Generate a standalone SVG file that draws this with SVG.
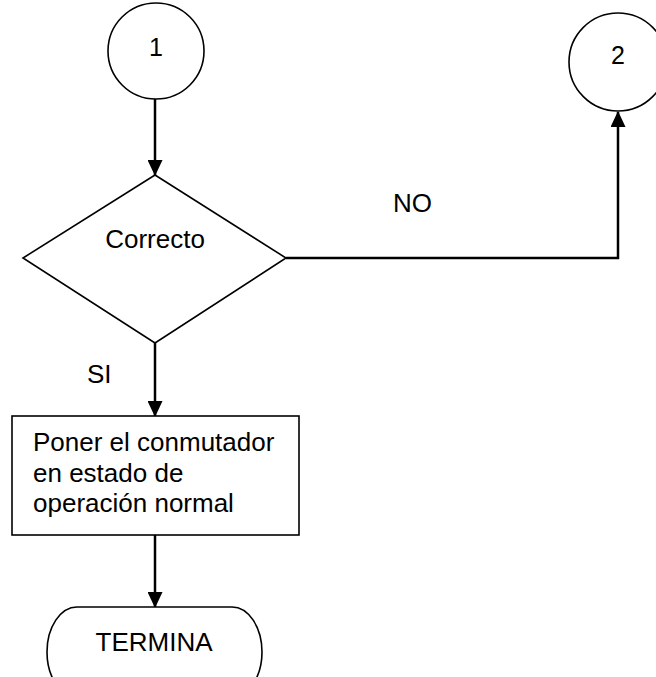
<svg xmlns="http://www.w3.org/2000/svg" width="656" height="677" viewBox="0 0 656 677">
<style>
.shape{fill:#fff;stroke:#000;stroke-width:1.6}
.conn{fill:none;stroke:#000;stroke-width:2.5}
text{font-family:"Liberation Sans",Arial,sans-serif;font-size:26px;fill:#000}
.num{font-size:25px}
</style>
<defs>
<marker id="arr" viewBox="0 0 16 15" refX="15" refY="7.5" markerWidth="16" markerHeight="15" markerUnits="userSpaceOnUse" orient="auto">
<path d="M0,0 L16,7.5 L0,15 Z" fill="#000"/>
</marker>
</defs>
<rect width="656" height="677" fill="#fff"/>
<g id="connectors">
<line class="conn" x1="155" y1="99" x2="155" y2="175" marker-end="url(#arr)"/>
<polyline class="conn" points="286,258 618,258 618,112" marker-end="url(#arr)"/>
<line class="conn" x1="155" y1="343" x2="155" y2="416" marker-end="url(#arr)"/>
<line class="conn" x1="155" y1="535" x2="155" y2="607" marker-end="url(#arr)"/>
<text x="393" y="212">NO</text>
<text x="87" y="383">SI</text>
</g>
<g id="node1">
<circle class="shape" cx="156" cy="51" r="48"/>
<text class="num" x="156" y="56" text-anchor="middle">1</text>
</g>
<g id="node2">
<circle class="shape" cx="618" cy="62" r="49"/>
<text class="num" x="618" y="64" text-anchor="middle">2</text>
</g>
<g id="decision">
<polygon class="shape" points="155,175 286,258 155,343 23,258"/>
<text x="155" y="248" text-anchor="middle">Correcto</text>
</g>
<g id="process">
<rect class="shape" x="12" y="416" width="287" height="119"/>
<text x="33" y="451">Poner el conmutador</text>
<text x="33" y="482">en estado de</text>
<text x="33" y="512">operación normal</text>
</g>
<g id="terminal">
<rect class="shape" x="47" y="607" width="215" height="90" rx="30" ry="45"/>
<text x="154" y="651" text-anchor="middle">TERMINA</text>
</g>
</svg>
